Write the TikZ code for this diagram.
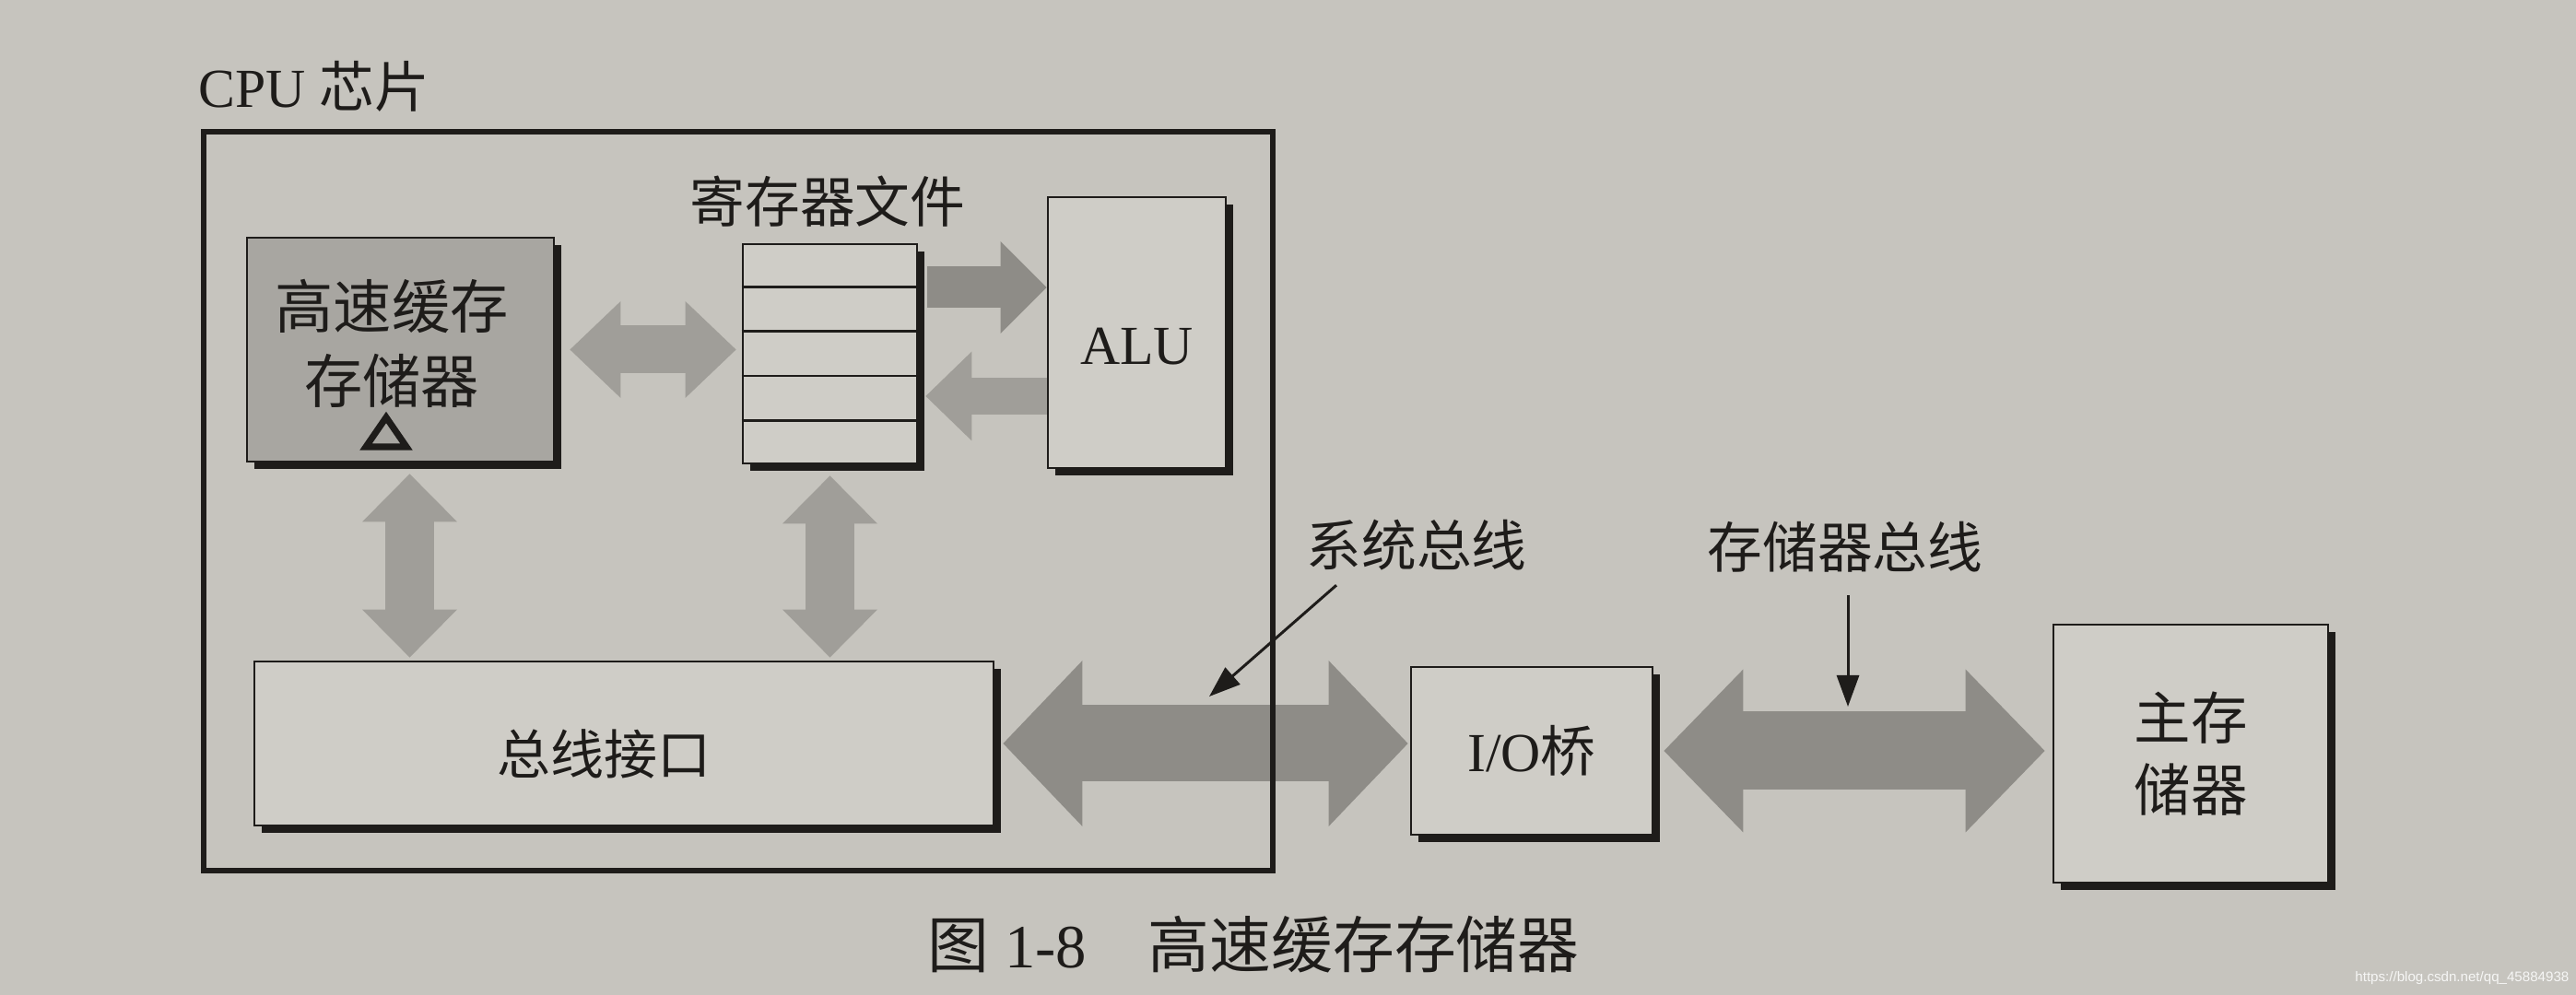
\documentclass[tikz,border=0pt]{standalone}
\usepackage{fontspec}
\setmainfont{Liberation Serif}
\newfontfamily\cjk{Noto Sans CJK SC}
\newfontfamily\wmfont{Liberation Sans}
\usepackage{tikz}
\usetikzlibrary{arrows.meta, positioning, calc, shadows}
\usepackage{xcolor}

\definecolor{paper}{RGB}{198,196,190}
\definecolor{boxfill}{RGB}{207,205,199}
\definecolor{cachefill}{RGB}{168,166,161}
\definecolor{busdark}{RGB}{142,140,135}
\definecolor{buslight}{RGB}{160,158,153}
\definecolor{ink}{RGB}{30,28,26}

\tikzset{
  box/.style={draw=ink, line width=0.8pt, fill=boxfill, inner sep=0pt, text=ink,
    drop shadow={shadow xshift=0.08cm, shadow yshift=-0.08cm, fill=ink, opacity=1}},
  lbl/.style={inner sep=0pt, text=ink},
  bus/.style n args={4}{draw=#1, line width=#2,
    >={Triangle[length=#4, width=#3, line width=0pt]}},
  note/.style={draw=ink, line width=0.85pt, -{Triangle[length=0.34cm, width=0.24cm]}}
}

\begin{document}
\begin{tikzpicture}
    % Page
    \fill[paper] (0,0) rectangle (27.95,10.8);
    \useasboundingbox (0,0) rectangle (27.95,10.8);

    % Units inside the chip
    \node[box, fill=cachefill, minimum width=3.33cm, minimum height=2.43cm] (cache) at (4.345,7.005) {};
    \node[lbl, align=center, font=\cjk\fontsize{18}{23}\selectfont] (cachetext) at (4.25,7.07) {高速缓存\\存储器};
    \draw[ink, line width=2pt, line join=miter] (3.97,5.95) -- (4.19,6.27) -- (4.41,5.95) -- cycle;

    \node[box, minimum width=1.89cm, minimum height=2.38cm] (regfile) at (9.005,6.96) {};
    \foreach \k in {1,...,4}
        \draw[ink, line width=0.8pt] ($(regfile.north west)!\k/5!(regfile.south west)$) -- ($(regfile.north east)!\k/5!(regfile.south east)$);
    \node[lbl, font=\cjk\fontsize{17}{20}\selectfont] (reglabel) at (8.98,8.61) {寄存器文件};

    \node[box, minimum width=1.93cm, minimum height=2.94cm, text height=0.7cm, font=\fontsize{17}{20}\selectfont] (alu) at (12.335,7.19) {ALU};

    \node[box, minimum width=8.02cm, minimum height=1.78cm] (busif) at (6.77,2.73) {};
    \node[lbl, font=\cjk\fontsize{16.5}{20}\selectfont] (busiftext) at (6.55,2.62) {总线接口};

    % Outside the chip
    \node[box, minimum width=2.62cm, minimum height=1.82cm, font=\fontsize{17}{20}\selectfont] (iobridge) at (16.62,2.65) {I/O{\cjk 桥}};
    \node[box, minimum width=2.98cm, minimum height=2.80cm, align=center, font=\cjk\fontsize{17.5}{22}\selectfont] (mainmem) at (23.77,2.62) {主存\\储器};

    % Buses
    \coordinate (upper) at (0,7.68);
    \coordinate (lower) at (0,6.50);
    \coordinate (cachedown) at ([xshift=0.1cm]cache.south);
    \draw[bus={buslight}{0.52cm}{1.05cm}{0.55cm}, <->, shorten <=0.16cm, shorten >=0.06cm] (cache.east) -- (regfile.west |- cache.east);
    \draw[bus={busdark}{0.45cm}{1.0cm}{0.5cm}, ->, shorten <=0.1cm] (regfile.east |- upper) -- (alu.west |- upper);
    \draw[bus={buslight}{0.40cm}{0.97cm}{0.5cm}, ->, shorten >=0.08cm] (alu.west |- lower) -- (regfile.east |- lower);
    \draw[bus={buslight}{0.53cm}{1.03cm}{0.52cm}, <->, shorten <=0.12cm, shorten >=0.03cm] (cachedown) -- (busif.north -| cachedown);
    \draw[bus={buslight}{0.53cm}{1.03cm}{0.52cm}, <->, shorten <=0.12cm, shorten >=0.03cm] (regfile.south) -- (busif.north -| regfile.south);
    \draw[bus={busdark}{0.83cm}{1.8cm}{0.86cm}, <->, shorten <=0.09cm, shorten >=0.02cm] (busif.east) -- (iobridge.west |- busif.east);
    \draw[bus={busdark}{0.85cm}{1.77cm}{0.86cm}, <->, shorten <=0.11cm, shorten >=0.08cm] (iobridge.east) -- (mainmem.west |- iobridge.east);

    % Chip outline
    \node[draw=ink, line width=1.6pt, minimum width=11.60cm, minimum height=8.02cm] (cpu) at (8.01,5.36) {};
    \node[lbl, anchor=west, font=\fontsize{17}{20}\selectfont] (cpulabel) at (2.15,9.86) {CPU {\cjk 芯片}};

    % Bus labels
    \node[lbl, font=\cjk\fontsize{17}{20}\selectfont] (syslabel) at (15.37,4.88) {系统总线};
    \node[lbl, font=\cjk\fontsize{17}{20}\selectfont] (memlabel) at (20.02,4.86) {存储器总线};
    \coordinate (systip) at (13.12,3.24);
    \coordinate (memtip) at (20.05,3.13);
    \draw[note] ([xshift=-0.87cm,yshift=-0.15cm]syslabel.south) -- (systip);
    \draw[note] ([xshift=0.03cm,yshift=-0.24cm]memlabel.south) -- (memtip);

    % Caption
    \node[lbl, font=\fontsize{19}{22}\selectfont] (caption) at (13.6,0.55) {{\cjk 图} 1-8\quad{\cjk 高速缓存存储器}};
    \node[anchor=east, inner sep=0pt, text=white!85!paper, font=\wmfont\fontsize{4.3}{5}\selectfont] (watermark) at (27.88,0.18) {https://blog.csdn.net/qq\_45884938};
\end{tikzpicture}
\end{document}
